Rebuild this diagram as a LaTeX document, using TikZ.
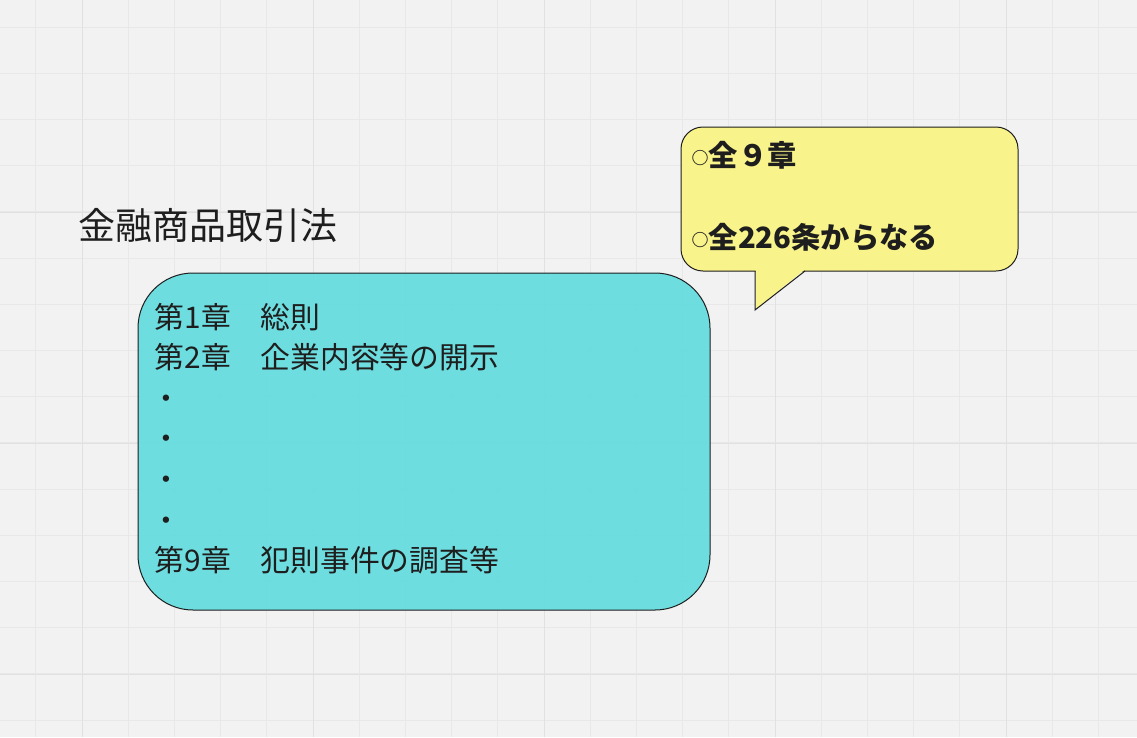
\documentclass[tikz,border=0pt]{standalone}
\usepackage{fontspec}
\newfontfamily\jp{Noto Sans CJK JP}
\definecolor{bg}{HTML}{F2F2F2}
\definecolor{gridminor}{HTML}{E8E8E8}
\definecolor{gridmajor}{HTML}{E1E1E1}
\definecolor{cyanfill}{HTML}{67DCDF}
\definecolor{yellowfill}{HTML}{F8F38A}
\definecolor{ink}{HTML}{1E1E1E}
\begin{document}
\begin{tikzpicture}[x=1pt,y=-1pt,
  minorline/.style={gridminor, line width=1pt},
  majorline/.style={gridmajor, line width=1pt},
  chapbox/.style={draw=ink, line width=1pt, fill=cyanfill, fill opacity=0.95, draw opacity=1,
    rounded corners=55pt, minimum width=572pt, minimum height=337pt, inner sep=0pt},
  notebox/.style={draw=ink, line width=1pt, fill=yellowfill,
    rounded corners=22pt, minimum width=337pt, minimum height=144pt, inner sep=0pt},
  titletext/.style={inner sep=0pt, anchor=base west, text=ink, font=\jp\fontsize{37}{37}\selectfont},
  jtext/.style={inner sep=0pt, anchor=base west, text=ink, font=\jp\fontsize{29.8}{29.8}\selectfont},
  notetext/.style={inner sep=0pt, anchor=base west, text=ink, font=\jp\bfseries\fontsize{29.3}{29.3}\selectfont}]
\useasboundingbox (0,0) rectangle (1137,737);
\fill[bg] (0,0) rectangle (1137,737);
% grid
\foreach \i in {0,...,24} \draw[minorline] ({-10.4+46.2*\i},0) -- ({-10.4+46.2*\i},737);
\foreach \j in {0,...,15} \draw[minorline] (0,{27+46.2*\j}) -- (1137,{27+46.2*\j});
\foreach \x in {82,313,544,775,1006} \draw[majorline] (\x,0) -- (\x,737);
\foreach \y in {212,443,674} \draw[majorline] (0,\y) -- (1137,\y);
% title
\node[titletext] (title) at (78.5,239.5) {金融商品取引法};
% chapters box
\node[chapbox] (chapters) at (424,441.5) {};
\node[jtext] (c1) at (154.5,328) {第1章　総則};
\node[jtext] (c2) at (154.5,368.6) {第2章　企業内容等の開示};
\node[jtext] (d1) at (151,409.2) {・};
\node[jtext] (d2) at (151,449.8) {・};
\node[jtext] (d3) at (151,490.4) {・};
\node[jtext] (d4) at (151,531) {・};
\node[jtext] (c9) at (154.5,571.6) {第9章　犯則事件の調査等};
% callout
\node[notebox] (note) at (849.5,199) {};
\fill[yellowfill] (755.5,269) -- (755.5,309.3) -- (805.5,269) -- cycle;
\coordinate (tailA) at (755,271);
\coordinate (tip) at (755,310);
\coordinate (tailB) at (805,271);
\draw[ink, line width=1pt, line join=miter] (tailA) -- (tip) -- (tailB);
\node[notetext] (n1) at (691.5,166) {\raisebox{1.5pt}{\fontsize{17}{17}\selectfont ○}全９章};
\node[notetext] (n2) at (691.5,248) {\raisebox{1.5pt}{\fontsize{17}{17}\selectfont ○}全226条からなる};
\end{tikzpicture}
\end{document}
